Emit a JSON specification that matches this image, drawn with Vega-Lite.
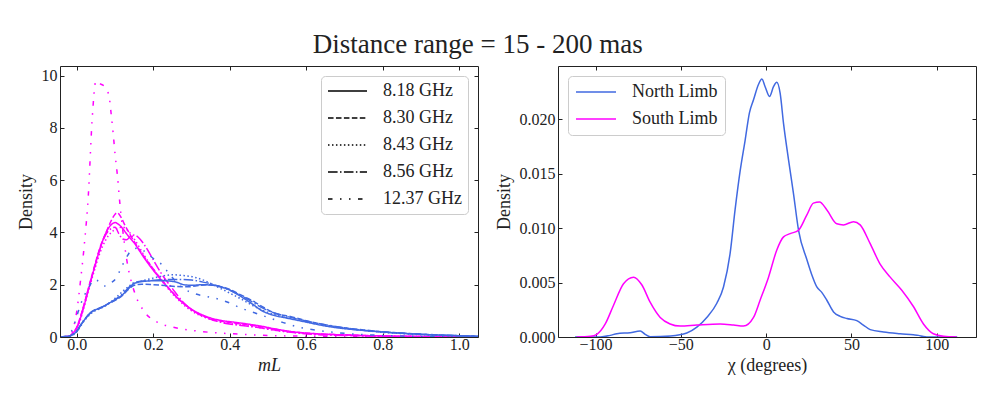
{
  "$schema": "https://vega.github.io/schema/vega-lite/v6.json",
  "padding": {"left": 16, "top": 31, "right": 20, "bottom": 10},
  "background": "white",
  "config": {
    "font": "Liberation Serif",
    "view": {"stroke": "#222", "strokeWidth": 1},
    "axis": {"grid": false, "domain": false, "tickColor": "#222", "tickSize": -4, "labelFont": "Liberation Serif", "titleFont": "Liberation Serif", "labelFontSize": 16, "labelColor": "#222", "titleFontSize": 18, "titleFontWeight": "normal", "titleColor": "#222", "labelPadding": 7},
    "axisX": {"labelPadding": 3, "titlePadding": 4},
    "legend": {"labelFont": "Liberation Serif"},
    "title": {"font": "Liberation Serif"}
  },
  "title": {"text": "Distance range = 15 - 200 mas", "font": "Liberation Serif", "fontSize": 27, "fontWeight": "normal", "color": "#222", "anchor": "middle", "dx": -19, "offset": 6},
  "bounds": "flush",
  "spacing": 80,
  "resolve": {"scale": {"color": "independent", "strokeDash": "independent"}, "legend": {"color": "independent", "strokeDash": "independent"}},
  "datasets": {
    "left": [
      {"limb":"South Limb","freq":"8.18 GHz","m":-0.04,"d":0},{"limb":"South Limb","freq":"8.18 GHz","m":-0.02,"d":0.03},{"limb":"South Limb","freq":"8.18 GHz","m":-0.01,"d":0.15},{"limb":"South Limb","freq":"8.18 GHz","m":0,"d":0.35},{"limb":"South Limb","freq":"8.18 GHz","m":0.01,"d":0.75},{"limb":"South Limb","freq":"8.18 GHz","m":0.02,"d":1.25},{"limb":"South Limb","freq":"8.18 GHz","m":0.03,"d":1.8},{"limb":"South Limb","freq":"8.18 GHz","m":0.045,"d":2.6},{"limb":"South Limb","freq":"8.18 GHz","m":0.06,"d":3.35},{"limb":"South Limb","freq":"8.18 GHz","m":0.075,"d":3.95},{"limb":"South Limb","freq":"8.18 GHz","m":0.09,"d":4.3},{"limb":"South Limb","freq":"8.18 GHz","m":0.1,"d":4.38},{"limb":"South Limb","freq":"8.18 GHz","m":0.11,"d":4.3},{"limb":"South Limb","freq":"8.18 GHz","m":0.12,"d":4.15},{"limb":"South Limb","freq":"8.18 GHz","m":0.13,"d":3.95},{"limb":"South Limb","freq":"8.18 GHz","m":0.15,"d":3.6},{"limb":"South Limb","freq":"8.18 GHz","m":0.175,"d":3.05},{"limb":"South Limb","freq":"8.18 GHz","m":0.2,"d":2.55},{"limb":"South Limb","freq":"8.18 GHz","m":0.235,"d":1.95},{"limb":"South Limb","freq":"8.18 GHz","m":0.27,"d":1.4},{"limb":"South Limb","freq":"8.18 GHz","m":0.305,"d":1.02},{"limb":"South Limb","freq":"8.18 GHz","m":0.34,"d":0.78},{"limb":"South Limb","freq":"8.18 GHz","m":0.375,"d":0.64},{"limb":"South Limb","freq":"8.18 GHz","m":0.41,"d":0.57},{"limb":"South Limb","freq":"8.18 GHz","m":0.445,"d":0.5},{"limb":"South Limb","freq":"8.18 GHz","m":0.48,"d":0.42},{"limb":"South Limb","freq":"8.18 GHz","m":0.515,"d":0.32},{"limb":"South Limb","freq":"8.18 GHz","m":0.565,"d":0.2},{"limb":"South Limb","freq":"8.18 GHz","m":0.63,"d":0.12},{"limb":"South Limb","freq":"8.18 GHz","m":0.7,"d":0.08},{"limb":"South Limb","freq":"8.18 GHz","m":0.8,"d":0.04},{"limb":"South Limb","freq":"8.18 GHz","m":0.9,"d":0.02},{"limb":"South Limb","freq":"8.18 GHz","m":1.05,"d":0.005},

      {"limb":"South Limb","freq":"8.30 GHz","m":-0.04,"d":0},{"limb":"South Limb","freq":"8.30 GHz","m":-0.02,"d":0.03},{"limb":"South Limb","freq":"8.30 GHz","m":-0.01,"d":0.15},{"limb":"South Limb","freq":"8.30 GHz","m":0,"d":0.38},{"limb":"South Limb","freq":"8.30 GHz","m":0.01,"d":0.8},{"limb":"South Limb","freq":"8.30 GHz","m":0.02,"d":1.3},{"limb":"South Limb","freq":"8.30 GHz","m":0.03,"d":1.85},{"limb":"South Limb","freq":"8.30 GHz","m":0.045,"d":2.65},{"limb":"South Limb","freq":"8.30 GHz","m":0.06,"d":3.4},{"limb":"South Limb","freq":"8.30 GHz","m":0.075,"d":3.95},{"limb":"South Limb","freq":"8.30 GHz","m":0.09,"d":4.45},{"limb":"South Limb","freq":"8.30 GHz","m":0.1,"d":4.7},{"limb":"South Limb","freq":"8.30 GHz","m":0.106,"d":4.75},{"limb":"South Limb","freq":"8.30 GHz","m":0.115,"d":4.6},{"limb":"South Limb","freq":"8.30 GHz","m":0.125,"d":4.3},{"limb":"South Limb","freq":"8.30 GHz","m":0.14,"d":3.9},{"limb":"South Limb","freq":"8.30 GHz","m":0.17,"d":3.2},{"limb":"South Limb","freq":"8.30 GHz","m":0.2,"d":2.6},{"limb":"South Limb","freq":"8.30 GHz","m":0.23,"d":2.05},{"limb":"South Limb","freq":"8.30 GHz","m":0.26,"d":1.55},{"limb":"South Limb","freq":"8.30 GHz","m":0.3,"d":1.05},{"limb":"South Limb","freq":"8.30 GHz","m":0.34,"d":0.75},{"limb":"South Limb","freq":"8.30 GHz","m":0.38,"d":0.6},{"limb":"South Limb","freq":"8.30 GHz","m":0.42,"d":0.52},{"limb":"South Limb","freq":"8.30 GHz","m":0.46,"d":0.44},{"limb":"South Limb","freq":"8.30 GHz","m":0.5,"d":0.34},{"limb":"South Limb","freq":"8.30 GHz","m":0.55,"d":0.22},{"limb":"South Limb","freq":"8.30 GHz","m":0.62,"d":0.13},{"limb":"South Limb","freq":"8.30 GHz","m":0.7,"d":0.08},{"limb":"South Limb","freq":"8.30 GHz","m":0.8,"d":0.04},{"limb":"South Limb","freq":"8.30 GHz","m":0.9,"d":0.02},{"limb":"South Limb","freq":"8.30 GHz","m":1.05,"d":0.005},

      {"limb":"South Limb","freq":"8.43 GHz","m":-0.04,"d":0},{"limb":"South Limb","freq":"8.43 GHz","m":-0.02,"d":0.03},{"limb":"South Limb","freq":"8.43 GHz","m":-0.01,"d":0.12},{"limb":"South Limb","freq":"8.43 GHz","m":0,"d":0.32},{"limb":"South Limb","freq":"8.43 GHz","m":0.01,"d":0.7},{"limb":"South Limb","freq":"8.43 GHz","m":0.02,"d":1.2},{"limb":"South Limb","freq":"8.43 GHz","m":0.03,"d":1.75},{"limb":"South Limb","freq":"8.43 GHz","m":0.045,"d":2.5},{"limb":"South Limb","freq":"8.43 GHz","m":0.06,"d":3.2},{"limb":"South Limb","freq":"8.43 GHz","m":0.075,"d":3.7},{"limb":"South Limb","freq":"8.43 GHz","m":0.09,"d":4.0},{"limb":"South Limb","freq":"8.43 GHz","m":0.105,"d":4.15},{"limb":"South Limb","freq":"8.43 GHz","m":0.12,"d":4.2},{"limb":"South Limb","freq":"8.43 GHz","m":0.135,"d":4.05},{"limb":"South Limb","freq":"8.43 GHz","m":0.15,"d":3.75},{"limb":"South Limb","freq":"8.43 GHz","m":0.175,"d":3.15},{"limb":"South Limb","freq":"8.43 GHz","m":0.2,"d":2.6},{"limb":"South Limb","freq":"8.43 GHz","m":0.23,"d":2.0},{"limb":"South Limb","freq":"8.43 GHz","m":0.26,"d":1.5},{"limb":"South Limb","freq":"8.43 GHz","m":0.3,"d":1.0},{"limb":"South Limb","freq":"8.43 GHz","m":0.34,"d":0.72},{"limb":"South Limb","freq":"8.43 GHz","m":0.38,"d":0.57},{"limb":"South Limb","freq":"8.43 GHz","m":0.42,"d":0.48},{"limb":"South Limb","freq":"8.43 GHz","m":0.46,"d":0.4},{"limb":"South Limb","freq":"8.43 GHz","m":0.5,"d":0.3},{"limb":"South Limb","freq":"8.43 GHz","m":0.55,"d":0.2},{"limb":"South Limb","freq":"8.43 GHz","m":0.62,"d":0.12},{"limb":"South Limb","freq":"8.43 GHz","m":0.7,"d":0.07},{"limb":"South Limb","freq":"8.43 GHz","m":0.8,"d":0.035},{"limb":"South Limb","freq":"8.43 GHz","m":0.9,"d":0.015},{"limb":"South Limb","freq":"8.43 GHz","m":1.05,"d":0.004},

      {"limb":"South Limb","freq":"8.56 GHz","m":-0.04,"d":0},{"limb":"South Limb","freq":"8.56 GHz","m":-0.02,"d":0.03},{"limb":"South Limb","freq":"8.56 GHz","m":-0.01,"d":0.15},{"limb":"South Limb","freq":"8.56 GHz","m":0,"d":0.36},{"limb":"South Limb","freq":"8.56 GHz","m":0.01,"d":0.78},{"limb":"South Limb","freq":"8.56 GHz","m":0.02,"d":1.28},{"limb":"South Limb","freq":"8.56 GHz","m":0.03,"d":1.82},{"limb":"South Limb","freq":"8.56 GHz","m":0.045,"d":2.6},{"limb":"South Limb","freq":"8.56 GHz","m":0.06,"d":3.35},{"limb":"South Limb","freq":"8.56 GHz","m":0.075,"d":3.9},{"limb":"South Limb","freq":"8.56 GHz","m":0.09,"d":4.15},{"limb":"South Limb","freq":"8.56 GHz","m":0.1,"d":4.2},{"limb":"South Limb","freq":"8.56 GHz","m":0.11,"d":3.95},{"limb":"South Limb","freq":"8.56 GHz","m":0.12,"d":3.75},{"limb":"South Limb","freq":"8.56 GHz","m":0.13,"d":3.72},{"limb":"South Limb","freq":"8.56 GHz","m":0.14,"d":3.85},{"limb":"South Limb","freq":"8.56 GHz","m":0.15,"d":3.9},{"limb":"South Limb","freq":"8.56 GHz","m":0.165,"d":3.75},{"limb":"South Limb","freq":"8.56 GHz","m":0.18,"d":3.45},{"limb":"South Limb","freq":"8.56 GHz","m":0.2,"d":2.95},{"limb":"South Limb","freq":"8.56 GHz","m":0.22,"d":2.45},{"limb":"South Limb","freq":"8.56 GHz","m":0.25,"d":1.85},{"limb":"South Limb","freq":"8.56 GHz","m":0.28,"d":1.3},{"limb":"South Limb","freq":"8.56 GHz","m":0.31,"d":0.95},{"limb":"South Limb","freq":"8.56 GHz","m":0.35,"d":0.68},{"limb":"South Limb","freq":"8.56 GHz","m":0.39,"d":0.52},{"limb":"South Limb","freq":"8.56 GHz","m":0.43,"d":0.44},{"limb":"South Limb","freq":"8.56 GHz","m":0.47,"d":0.37},{"limb":"South Limb","freq":"8.56 GHz","m":0.51,"d":0.28},{"limb":"South Limb","freq":"8.56 GHz","m":0.56,"d":0.18},{"limb":"South Limb","freq":"8.56 GHz","m":0.62,"d":0.1},{"limb":"South Limb","freq":"8.56 GHz","m":0.7,"d":0.06},{"limb":"South Limb","freq":"8.56 GHz","m":0.8,"d":0.03},{"limb":"South Limb","freq":"8.56 GHz","m":0.9,"d":0.012},{"limb":"South Limb","freq":"8.56 GHz","m":1.05,"d":0.003},

      {"limb":"South Limb","freq":"12.37 GHz","m":-0.04,"d":0},{"limb":"South Limb","freq":"12.37 GHz","m":-0.02,"d":0.05},{"limb":"South Limb","freq":"12.37 GHz","m":-0.01,"d":0.3},{"limb":"South Limb","freq":"12.37 GHz","m":0,"d":1.0},{"limb":"South Limb","freq":"12.37 GHz","m":0.01,"d":2.2},{"limb":"South Limb","freq":"12.37 GHz","m":0.02,"d":3.6},{"limb":"South Limb","freq":"12.37 GHz","m":0.03,"d":5.4},{"limb":"South Limb","freq":"12.37 GHz","m":0.04,"d":8.3},{"limb":"South Limb","freq":"12.37 GHz","m":0.05,"d":9.8},{"limb":"South Limb","freq":"12.37 GHz","m":0.06,"d":9.7},{"limb":"South Limb","freq":"12.37 GHz","m":0.075,"d":9.55},{"limb":"South Limb","freq":"12.37 GHz","m":0.085,"d":9.15},{"limb":"South Limb","freq":"12.37 GHz","m":0.09,"d":8.5},{"limb":"South Limb","freq":"12.37 GHz","m":0.095,"d":7.8},{"limb":"South Limb","freq":"12.37 GHz","m":0.1,"d":7.0},{"limb":"South Limb","freq":"12.37 GHz","m":0.106,"d":6.2},{"limb":"South Limb","freq":"12.37 GHz","m":0.112,"d":5.2},{"limb":"South Limb","freq":"12.37 GHz","m":0.12,"d":4.1},{"limb":"South Limb","freq":"12.37 GHz","m":0.13,"d":3.0},{"limb":"South Limb","freq":"12.37 GHz","m":0.15,"d":1.75},{"limb":"South Limb","freq":"12.37 GHz","m":0.175,"d":1.0},{"limb":"South Limb","freq":"12.37 GHz","m":0.21,"d":0.57},{"limb":"South Limb","freq":"12.37 GHz","m":0.25,"d":0.38},{"limb":"South Limb","freq":"12.37 GHz","m":0.32,"d":0.22},{"limb":"South Limb","freq":"12.37 GHz","m":0.41,"d":0.12},{"limb":"South Limb","freq":"12.37 GHz","m":0.5,"d":0.06},{"limb":"South Limb","freq":"12.37 GHz","m":0.6,"d":0.03},{"limb":"South Limb","freq":"12.37 GHz","m":0.8,"d":0.01},{"limb":"South Limb","freq":"12.37 GHz","m":1.05,"d":0},

      {"limb":"North Limb","freq":"8.18 GHz","m":-0.04,"d":0},{"limb":"North Limb","freq":"8.18 GHz","m":-0.02,"d":0.03},{"limb":"North Limb","freq":"8.18 GHz","m":-0.01,"d":0.1},{"limb":"North Limb","freq":"8.18 GHz","m":0,"d":0.22},{"limb":"North Limb","freq":"8.18 GHz","m":0.01,"d":0.45},{"limb":"North Limb","freq":"8.18 GHz","m":0.025,"d":0.75},{"limb":"North Limb","freq":"8.18 GHz","m":0.04,"d":0.98},{"limb":"North Limb","freq":"8.18 GHz","m":0.055,"d":1.08},{"limb":"North Limb","freq":"8.18 GHz","m":0.07,"d":1.18},{"limb":"North Limb","freq":"8.18 GHz","m":0.085,"d":1.3},{"limb":"North Limb","freq":"8.18 GHz","m":0.1,"d":1.42},{"limb":"North Limb","freq":"8.18 GHz","m":0.12,"d":1.62},{"limb":"North Limb","freq":"8.18 GHz","m":0.135,"d":1.85},{"limb":"North Limb","freq":"8.18 GHz","m":0.15,"d":2.05},{"limb":"North Limb","freq":"8.18 GHz","m":0.17,"d":2.12},{"limb":"North Limb","freq":"8.18 GHz","m":0.2,"d":2.15},{"limb":"North Limb","freq":"8.18 GHz","m":0.23,"d":2.15},{"limb":"North Limb","freq":"8.18 GHz","m":0.26,"d":2.1},{"limb":"North Limb","freq":"8.18 GHz","m":0.28,"d":2.0},{"limb":"North Limb","freq":"8.18 GHz","m":0.3,"d":1.98},{"limb":"North Limb","freq":"8.18 GHz","m":0.33,"d":2.0},{"limb":"North Limb","freq":"8.18 GHz","m":0.36,"d":1.97},{"limb":"North Limb","freq":"8.18 GHz","m":0.38,"d":1.9},{"limb":"North Limb","freq":"8.18 GHz","m":0.4,"d":1.8},{"limb":"North Limb","freq":"8.18 GHz","m":0.42,"d":1.63},{"limb":"North Limb","freq":"8.18 GHz","m":0.445,"d":1.4},{"limb":"North Limb","freq":"8.18 GHz","m":0.465,"d":1.2},{"limb":"North Limb","freq":"8.18 GHz","m":0.48,"d":1.04},{"limb":"North Limb","freq":"8.18 GHz","m":0.5,"d":0.9},{"limb":"North Limb","freq":"8.18 GHz","m":0.515,"d":0.83},{"limb":"North Limb","freq":"8.18 GHz","m":0.55,"d":0.72},{"limb":"North Limb","freq":"8.18 GHz","m":0.6,"d":0.57},{"limb":"North Limb","freq":"8.18 GHz","m":0.65,"d":0.42},{"limb":"North Limb","freq":"8.18 GHz","m":0.7,"d":0.32},{"limb":"North Limb","freq":"8.18 GHz","m":0.75,"d":0.25},{"limb":"North Limb","freq":"8.18 GHz","m":0.8,"d":0.19},{"limb":"North Limb","freq":"8.18 GHz","m":0.85,"d":0.14},{"limb":"North Limb","freq":"8.18 GHz","m":0.9,"d":0.1},{"limb":"North Limb","freq":"8.18 GHz","m":0.95,"d":0.07},{"limb":"North Limb","freq":"8.18 GHz","m":1.0,"d":0.05},{"limb":"North Limb","freq":"8.18 GHz","m":1.05,"d":0.03},

      {"limb":"North Limb","freq":"8.30 GHz","m":-0.04,"d":0},{"limb":"North Limb","freq":"8.30 GHz","m":-0.02,"d":0.03},{"limb":"North Limb","freq":"8.30 GHz","m":-0.01,"d":0.1},{"limb":"North Limb","freq":"8.30 GHz","m":0,"d":0.22},{"limb":"North Limb","freq":"8.30 GHz","m":0.01,"d":0.45},{"limb":"North Limb","freq":"8.30 GHz","m":0.025,"d":0.76},{"limb":"North Limb","freq":"8.30 GHz","m":0.04,"d":0.97},{"limb":"North Limb","freq":"8.30 GHz","m":0.055,"d":1.07},{"limb":"North Limb","freq":"8.30 GHz","m":0.07,"d":1.17},{"limb":"North Limb","freq":"8.30 GHz","m":0.085,"d":1.29},{"limb":"North Limb","freq":"8.30 GHz","m":0.1,"d":1.4},{"limb":"North Limb","freq":"8.30 GHz","m":0.12,"d":1.6},{"limb":"North Limb","freq":"8.30 GHz","m":0.135,"d":1.82},{"limb":"North Limb","freq":"8.30 GHz","m":0.15,"d":1.98},{"limb":"North Limb","freq":"8.30 GHz","m":0.17,"d":2.02},{"limb":"North Limb","freq":"8.30 GHz","m":0.2,"d":2.0},{"limb":"North Limb","freq":"8.30 GHz","m":0.23,"d":1.97},{"limb":"North Limb","freq":"8.30 GHz","m":0.26,"d":1.93},{"limb":"North Limb","freq":"8.30 GHz","m":0.29,"d":1.92},{"limb":"North Limb","freq":"8.30 GHz","m":0.31,"d":1.95},{"limb":"North Limb","freq":"8.30 GHz","m":0.34,"d":2.0},{"limb":"North Limb","freq":"8.30 GHz","m":0.37,"d":1.95},{"limb":"North Limb","freq":"8.30 GHz","m":0.4,"d":1.82},{"limb":"North Limb","freq":"8.30 GHz","m":0.43,"d":1.6},{"limb":"North Limb","freq":"8.30 GHz","m":0.46,"d":1.38},{"limb":"North Limb","freq":"8.30 GHz","m":0.49,"d":1.12},{"limb":"North Limb","freq":"8.30 GHz","m":0.52,"d":0.9},{"limb":"North Limb","freq":"8.30 GHz","m":0.56,"d":0.78},{"limb":"North Limb","freq":"8.30 GHz","m":0.6,"d":0.62},{"limb":"North Limb","freq":"8.30 GHz","m":0.65,"d":0.46},{"limb":"North Limb","freq":"8.30 GHz","m":0.7,"d":0.35},{"limb":"North Limb","freq":"8.30 GHz","m":0.75,"d":0.27},{"limb":"North Limb","freq":"8.30 GHz","m":0.8,"d":0.2},{"limb":"North Limb","freq":"8.30 GHz","m":0.85,"d":0.15},{"limb":"North Limb","freq":"8.30 GHz","m":0.9,"d":0.11},{"limb":"North Limb","freq":"8.30 GHz","m":0.95,"d":0.08},{"limb":"North Limb","freq":"8.30 GHz","m":1.0,"d":0.05},{"limb":"North Limb","freq":"8.30 GHz","m":1.05,"d":0.03},

      {"limb":"North Limb","freq":"8.43 GHz","m":-0.04,"d":0},{"limb":"North Limb","freq":"8.43 GHz","m":-0.02,"d":0.03},{"limb":"North Limb","freq":"8.43 GHz","m":-0.01,"d":0.08},{"limb":"North Limb","freq":"8.43 GHz","m":0,"d":0.2},{"limb":"North Limb","freq":"8.43 GHz","m":0.01,"d":0.42},{"limb":"North Limb","freq":"8.43 GHz","m":0.025,"d":0.72},{"limb":"North Limb","freq":"8.43 GHz","m":0.04,"d":0.93},{"limb":"North Limb","freq":"8.43 GHz","m":0.055,"d":1.05},{"limb":"North Limb","freq":"8.43 GHz","m":0.07,"d":1.15},{"limb":"North Limb","freq":"8.43 GHz","m":0.085,"d":1.3},{"limb":"North Limb","freq":"8.43 GHz","m":0.1,"d":1.48},{"limb":"North Limb","freq":"8.43 GHz","m":0.12,"d":1.75},{"limb":"North Limb","freq":"8.43 GHz","m":0.14,"d":1.98},{"limb":"North Limb","freq":"8.43 GHz","m":0.16,"d":2.1},{"limb":"North Limb","freq":"8.43 GHz","m":0.19,"d":2.22},{"limb":"North Limb","freq":"8.43 GHz","m":0.22,"d":2.32},{"limb":"North Limb","freq":"8.43 GHz","m":0.25,"d":2.38},{"limb":"North Limb","freq":"8.43 GHz","m":0.28,"d":2.35},{"limb":"North Limb","freq":"8.43 GHz","m":0.31,"d":2.28},{"limb":"North Limb","freq":"8.43 GHz","m":0.34,"d":2.12},{"limb":"North Limb","freq":"8.43 GHz","m":0.37,"d":1.9},{"limb":"North Limb","freq":"8.43 GHz","m":0.4,"d":1.68},{"limb":"North Limb","freq":"8.43 GHz","m":0.43,"d":1.45},{"limb":"North Limb","freq":"8.43 GHz","m":0.46,"d":1.2},{"limb":"North Limb","freq":"8.43 GHz","m":0.49,"d":1.0},{"limb":"North Limb","freq":"8.43 GHz","m":0.52,"d":0.85},{"limb":"North Limb","freq":"8.43 GHz","m":0.56,"d":0.72},{"limb":"North Limb","freq":"8.43 GHz","m":0.6,"d":0.58},{"limb":"North Limb","freq":"8.43 GHz","m":0.65,"d":0.44},{"limb":"North Limb","freq":"8.43 GHz","m":0.7,"d":0.33},{"limb":"North Limb","freq":"8.43 GHz","m":0.75,"d":0.25},{"limb":"North Limb","freq":"8.43 GHz","m":0.8,"d":0.18},{"limb":"North Limb","freq":"8.43 GHz","m":0.85,"d":0.13},{"limb":"North Limb","freq":"8.43 GHz","m":0.9,"d":0.09},{"limb":"North Limb","freq":"8.43 GHz","m":0.95,"d":0.06},{"limb":"North Limb","freq":"8.43 GHz","m":1.0,"d":0.04},{"limb":"North Limb","freq":"8.43 GHz","m":1.05,"d":0.02},

      {"limb":"North Limb","freq":"8.56 GHz","m":-0.04,"d":0},{"limb":"North Limb","freq":"8.56 GHz","m":-0.02,"d":0.03},{"limb":"North Limb","freq":"8.56 GHz","m":-0.01,"d":0.1},{"limb":"North Limb","freq":"8.56 GHz","m":0,"d":0.22},{"limb":"North Limb","freq":"8.56 GHz","m":0.01,"d":0.46},{"limb":"North Limb","freq":"8.56 GHz","m":0.025,"d":0.76},{"limb":"North Limb","freq":"8.56 GHz","m":0.04,"d":0.97},{"limb":"North Limb","freq":"8.56 GHz","m":0.055,"d":1.07},{"limb":"North Limb","freq":"8.56 GHz","m":0.07,"d":1.17},{"limb":"North Limb","freq":"8.56 GHz","m":0.085,"d":1.3},{"limb":"North Limb","freq":"8.56 GHz","m":0.1,"d":1.43},{"limb":"North Limb","freq":"8.56 GHz","m":0.12,"d":1.66},{"limb":"North Limb","freq":"8.56 GHz","m":0.135,"d":1.88},{"limb":"North Limb","freq":"8.56 GHz","m":0.15,"d":2.08},{"limb":"North Limb","freq":"8.56 GHz","m":0.18,"d":2.15},{"limb":"North Limb","freq":"8.56 GHz","m":0.21,"d":2.18},{"limb":"North Limb","freq":"8.56 GHz","m":0.24,"d":2.2},{"limb":"North Limb","freq":"8.56 GHz","m":0.27,"d":2.2},{"limb":"North Limb","freq":"8.56 GHz","m":0.3,"d":2.18},{"limb":"North Limb","freq":"8.56 GHz","m":0.33,"d":2.1},{"limb":"North Limb","freq":"8.56 GHz","m":0.36,"d":2.0},{"limb":"North Limb","freq":"8.56 GHz","m":0.39,"d":1.85},{"limb":"North Limb","freq":"8.56 GHz","m":0.42,"d":1.65},{"limb":"North Limb","freq":"8.56 GHz","m":0.45,"d":1.42},{"limb":"North Limb","freq":"8.56 GHz","m":0.48,"d":1.15},{"limb":"North Limb","freq":"8.56 GHz","m":0.51,"d":0.95},{"limb":"North Limb","freq":"8.56 GHz","m":0.54,"d":0.82},{"limb":"North Limb","freq":"8.56 GHz","m":0.58,"d":0.68},{"limb":"North Limb","freq":"8.56 GHz","m":0.62,"d":0.55},{"limb":"North Limb","freq":"8.56 GHz","m":0.67,"d":0.42},{"limb":"North Limb","freq":"8.56 GHz","m":0.72,"d":0.31},{"limb":"North Limb","freq":"8.56 GHz","m":0.78,"d":0.22},{"limb":"North Limb","freq":"8.56 GHz","m":0.85,"d":0.15},{"limb":"North Limb","freq":"8.56 GHz","m":0.92,"d":0.09},{"limb":"North Limb","freq":"8.56 GHz","m":1.0,"d":0.05},{"limb":"North Limb","freq":"8.56 GHz","m":1.05,"d":0.03},

      {"limb":"North Limb","freq":"12.37 GHz","m":-0.04,"d":0},{"limb":"North Limb","freq":"12.37 GHz","m":-0.02,"d":0.1},{"limb":"North Limb","freq":"12.37 GHz","m":-0.01,"d":0.35},{"limb":"North Limb","freq":"12.37 GHz","m":0,"d":0.8},{"limb":"North Limb","freq":"12.37 GHz","m":0.01,"d":1.25},{"limb":"North Limb","freq":"12.37 GHz","m":0.02,"d":1.6},{"limb":"North Limb","freq":"12.37 GHz","m":0.03,"d":1.85},{"limb":"North Limb","freq":"12.37 GHz","m":0.045,"d":2.2},{"limb":"North Limb","freq":"12.37 GHz","m":0.055,"d":2.15},{"limb":"North Limb","freq":"12.37 GHz","m":0.065,"d":2.0},{"limb":"North Limb","freq":"12.37 GHz","m":0.075,"d":1.95},{"limb":"North Limb","freq":"12.37 GHz","m":0.09,"d":2.08},{"limb":"North Limb","freq":"12.37 GHz","m":0.105,"d":2.3},{"limb":"North Limb","freq":"12.37 GHz","m":0.115,"d":2.62},{"limb":"North Limb","freq":"12.37 GHz","m":0.13,"d":3.05},{"limb":"North Limb","freq":"12.37 GHz","m":0.145,"d":3.35},{"limb":"North Limb","freq":"12.37 GHz","m":0.16,"d":3.4},{"limb":"North Limb","freq":"12.37 GHz","m":0.175,"d":3.3},{"limb":"North Limb","freq":"12.37 GHz","m":0.19,"d":3.12},{"limb":"North Limb","freq":"12.37 GHz","m":0.205,"d":2.95},{"limb":"North Limb","freq":"12.37 GHz","m":0.22,"d":2.8},{"limb":"North Limb","freq":"12.37 GHz","m":0.24,"d":2.45},{"limb":"North Limb","freq":"12.37 GHz","m":0.26,"d":2.1},{"limb":"North Limb","freq":"12.37 GHz","m":0.28,"d":1.85},{"limb":"North Limb","freq":"12.37 GHz","m":0.31,"d":1.65},{"limb":"North Limb","freq":"12.37 GHz","m":0.34,"d":1.55},{"limb":"North Limb","freq":"12.37 GHz","m":0.37,"d":1.45},{"limb":"North Limb","freq":"12.37 GHz","m":0.4,"d":1.3},{"limb":"North Limb","freq":"12.37 GHz","m":0.43,"d":1.1},{"limb":"North Limb","freq":"12.37 GHz","m":0.46,"d":0.95},{"limb":"North Limb","freq":"12.37 GHz","m":0.5,"d":0.75},{"limb":"North Limb","freq":"12.37 GHz","m":0.54,"d":0.55},{"limb":"North Limb","freq":"12.37 GHz","m":0.58,"d":0.38},{"limb":"North Limb","freq":"12.37 GHz","m":0.63,"d":0.25},{"limb":"North Limb","freq":"12.37 GHz","m":0.7,"d":0.14},{"limb":"North Limb","freq":"12.37 GHz","m":0.8,"d":0.06},{"limb":"North Limb","freq":"12.37 GHz","m":0.9,"d":0.02},{"limb":"North Limb","freq":"12.37 GHz","m":1.05,"d":0.005}
    ],
    "right": [
      {"limb":"North Limb","chi":-112,"d":0},{"limb":"North Limb","chi":-97,"d":0},{"limb":"North Limb","chi":-91.4,"d":0.00015},{"limb":"North Limb","chi":-87.5,"d":0.0003},{"limb":"North Limb","chi":-79.7,"d":0.0004},{"limb":"North Limb","chi":-73.8,"d":0.00055},{"limb":"North Limb","chi":-70.9,"d":0.00025},{"limb":"North Limb","chi":-68,"d":0.00003},{"limb":"North Limb","chi":-56,"d":0.0001},{"limb":"North Limb","chi":-46.5,"d":0.00037},{"limb":"North Limb","chi":-40.6,"d":0.0009},{"limb":"North Limb","chi":-34.8,"d":0.0018},{"limb":"North Limb","chi":-28.9,"d":0.0031},{"limb":"North Limb","chi":-25,"d":0.0046},{"limb":"North Limb","chi":-21.1,"d":0.0077},{"limb":"North Limb","chi":-18.2,"d":0.0117},{"limb":"North Limb","chi":-15.2,"d":0.0153},{"limb":"North Limb","chi":-12.3,"d":0.0181},{"limb":"North Limb","chi":-9.8,"d":0.0206},{"limb":"North Limb","chi":-7.4,"d":0.0218},{"limb":"North Limb","chi":-4.5,"d":0.0232},{"limb":"North Limb","chi":-2.5,"d":0.0237},{"limb":"North Limb","chi":-0.6,"d":0.023},{"limb":"North Limb","chi":2,"d":0.0221},{"limb":"North Limb","chi":4.3,"d":0.023},{"limb":"North Limb","chi":6.25,"d":0.0234},{"limb":"North Limb","chi":8.2,"d":0.0224},{"limb":"North Limb","chi":10.2,"d":0.0196},{"limb":"North Limb","chi":13.1,"d":0.0163},{"limb":"North Limb","chi":16,"d":0.0132},{"limb":"North Limb","chi":19,"d":0.0098},{"limb":"North Limb","chi":23.9,"d":0.0071},{"limb":"North Limb","chi":26.8,"d":0.0057},{"limb":"North Limb","chi":29.7,"d":0.0046},{"limb":"North Limb","chi":32.6,"d":0.0041},{"limb":"North Limb","chi":35.5,"d":0.0034},{"limb":"North Limb","chi":39.5,"d":0.0023},{"limb":"North Limb","chi":43.4,"d":0.0019},{"limb":"North Limb","chi":47.3,"d":0.0017},{"limb":"North Limb","chi":53.1,"d":0.0015},{"limb":"North Limb","chi":57,"d":0.0011},{"limb":"North Limb","chi":61,"d":0.00068},{"limb":"North Limb","chi":68.8,"d":0.00046},{"limb":"North Limb","chi":78.5,"d":0.0003},{"limb":"North Limb","chi":86.3,"d":0.0002},{"limb":"North Limb","chi":89.3,"d":0.00015},{"limb":"North Limb","chi":92.2,"d":0.00005},{"limb":"North Limb","chi":96,"d":0},{"limb":"North Limb","chi":112,"d":0},

      {"limb":"South Limb","chi":-111,"d":0},{"limb":"South Limb","chi":-103,"d":0.00006},{"limb":"South Limb","chi":-99.2,"d":0.00025},{"limb":"South Limb","chi":-94.3,"d":0.0012},{"limb":"South Limb","chi":-89.5,"d":0.0029},{"limb":"South Limb","chi":-83.6,"d":0.0049},{"limb":"South Limb","chi":-77.7,"d":0.0055},{"limb":"South Limb","chi":-72.9,"d":0.0048},{"limb":"South Limb","chi":-68,"d":0.0032},{"limb":"South Limb","chi":-62.1,"d":0.0018},{"limb":"South Limb","chi":-56.3,"d":0.0012},{"limb":"South Limb","chi":-50.4,"d":0.001},{"limb":"South Limb","chi":-40.6,"d":0.0011},{"limb":"South Limb","chi":-27,"d":0.0012},{"limb":"South Limb","chi":-19.1,"d":0.0011},{"limb":"South Limb","chi":-13.3,"d":0.001},{"limb":"South Limb","chi":-7.4,"d":0.0018},{"limb":"South Limb","chi":-3.5,"d":0.0034},{"limb":"South Limb","chi":1.4,"d":0.0055},{"limb":"South Limb","chi":6.25,"d":0.008},{"limb":"South Limb","chi":10.2,"d":0.0092},{"limb":"South Limb","chi":14.1,"d":0.0095},{"limb":"South Limb","chi":18.9,"d":0.0098},{"limb":"South Limb","chi":23.8,"d":0.0112},{"limb":"South Limb","chi":27.7,"d":0.0123},{"limb":"South Limb","chi":31.3,"d":0.0124},{"limb":"South Limb","chi":35.5,"d":0.0117},{"limb":"South Limb","chi":41.4,"d":0.0104},{"limb":"South Limb","chi":45.3,"d":0.0103},{"limb":"South Limb","chi":51.2,"d":0.0106},{"limb":"South Limb","chi":55.1,"d":0.0103},{"limb":"South Limb","chi":60.9,"d":0.0086},{"limb":"South Limb","chi":66.8,"d":0.0067},{"limb":"South Limb","chi":72.7,"d":0.0055},{"limb":"South Limb","chi":79.5,"d":0.0043},{"limb":"South Limb","chi":86.3,"d":0.0028},{"limb":"South Limb","chi":92.2,"d":0.0012},{"limb":"South Limb","chi":98,"d":0.0003},{"limb":"South Limb","chi":104,"d":0.00006},{"limb":"South Limb","chi":111.7,"d":0}
    ]
  },
  "hconcat": [
    {
      "width": 418,
      "height": 271,
      "data": {"name": "left"},
      "resolve": {"axis": {"x": "independent", "y": "independent"}},
      "layer": [
        {
          "mark": {"type": "line", "strokeWidth": 1.5, "clip": true, "interpolate": "monotone"},
          "encoding": {
            "x": {"field": "m", "type": "quantitative", "scale": {"domain": [-0.044, 1.049], "nice": false, "zero": false}, "axis": {"values": [0, 0.2, 0.4, 0.6, 0.8, 1.0], "format": ".1f", "title": "mL", "titleFontStyle": "italic", "labelFont": "Liberation Serif", "titleFont": "Liberation Serif"}},
            "y": {"field": "d", "type": "quantitative", "scale": {"domain": [0, 10.37], "nice": false}, "axis": {"values": [0, 2, 4, 6, 8, 10], "title": "Density", "titlePadding": 6, "labelFont": "Liberation Serif", "titleFont": "Liberation Serif"}},
            "color": {"field": "limb", "type": "nominal", "scale": {"domain": ["North Limb", "South Limb"], "range": ["#4169e1", "#ff00ff"]}, "legend": null},
            "strokeDash": {"field": "freq", "type": "nominal", "scale": {"domain": ["8.18 GHz", "8.30 GHz", "8.43 GHz", "8.56 GHz", "12.37 GHz"], "range": [[1, 0], [5.55, 2.4], [1.5, 2.475], [9.6, 2.4, 1.5, 2.4], [4.5, 7.5, 1.5, 7.5, 1.5, 7.5]]}, "legend": {"title": null, "orient": "top-right", "offset": 10, "symbolType": "stroke", "symbolSize": 1521, "symbolStrokeWidth": 1.5, "symbolStrokeColor": "black", "labelFont": "Liberation Serif", "labelFontSize": 18, "labelColor": "#222", "labelOffset": 15, "clipHeight": 18, "rowPadding": 9, "fillColor": "white", "strokeColor": "#ccc", "cornerRadius": 4, "padding": 6}}
          }
        },
        {
          "mark": {"type": "line", "opacity": 0},
          "encoding": {
            "x": {"field": "m", "type": "quantitative", "axis": {"orient": "top", "values": [0, 0.2, 0.4, 0.6, 0.8, 1.0], "labels": false, "title": null}},
            "y": {"field": "d", "type": "quantitative", "axis": {"orient": "right", "values": [0, 2, 4, 6, 8, 10], "labels": false, "title": null}}
          }
        }
      ]
    },
    {
      "width": 418,
      "height": 271,
      "data": {"name": "right"},
      "resolve": {"axis": {"x": "independent", "y": "independent"}},
      "layer": [
        {
          "mark": {"type": "line", "strokeWidth": 1.5, "clip": true, "interpolate": "monotone"},
          "encoding": {
            "x": {"field": "chi", "type": "quantitative", "scale": {"domain": [-122, 123], "nice": false, "zero": false}, "axis": {"values": [-100, -50, 0, 50, 100], "title": "χ (degrees)", "labelFont": "Liberation Serif", "titleFont": "Liberation Serif"}},
            "y": {"field": "d", "type": "quantitative", "scale": {"domain": [0, 0.0249], "nice": false}, "axis": {"values": [0, 0.005, 0.01, 0.015, 0.02], "format": ".3f", "title": "Density", "titlePadding": 6, "labelFont": "Liberation Serif", "titleFont": "Liberation Serif"}},
            "color": {"field": "limb", "type": "nominal", "scale": {"domain": ["North Limb", "South Limb"], "range": ["#4169e1", "#ff00ff"]}, "legend": {"title": null, "orient": "top-left", "offset": 10, "symbolType": "stroke", "symbolSize": 1600, "symbolStrokeWidth": 1.5, "labelFont": "Liberation Serif", "labelFontSize": 18, "labelColor": "#222", "labelOffset": 15, "clipHeight": 18, "rowPadding": 9, "fillColor": "white", "strokeColor": "#ccc", "cornerRadius": 4, "padding": 7}}
          }
        },
        {
          "mark": {"type": "line", "opacity": 0},
          "encoding": {
            "x": {"field": "chi", "type": "quantitative", "axis": {"orient": "top", "values": [-100, -50, 0, 50, 100], "labels": false, "title": null}},
            "y": {"field": "d", "type": "quantitative", "axis": {"orient": "right", "values": [0, 0.005, 0.01, 0.015, 0.02], "labels": false, "title": null}}
          }
        }
      ]
    }
  ]
}
